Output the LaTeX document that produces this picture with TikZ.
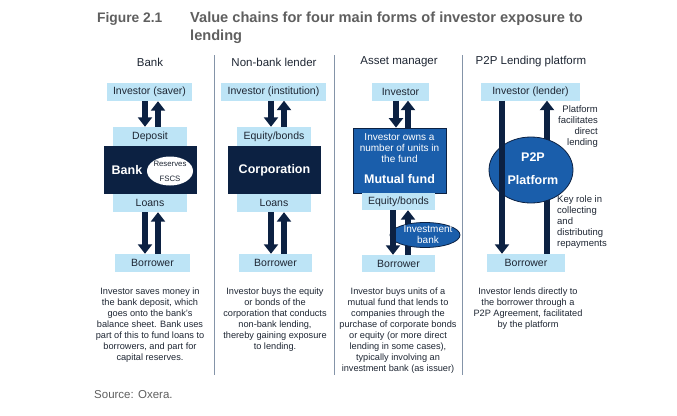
\documentclass[tikz,border=0pt]{standalone}
\usepackage{fontspec}
\setmainfont{Liberation Sans}
\usetikzlibrary{arrows.meta,shapes.geometric}
\definecolor{lblue}{HTML}{BDE4F6}
\definecolor{navy}{HTML}{0C2142}
\definecolor{midblue}{HTML}{1A5EAB}
\definecolor{tdark}{HTML}{1E2633}
\definecolor{tgray}{HTML}{5F5F5F}
\definecolor{sepc}{HTML}{8494A8}
\begin{document}
\begin{tikzpicture}[x=1pt,y=-1pt,
  lbox/.style={fill=lblue, inner sep=0pt, text=tdark, font=\fontsize{10.5}{12}\selectfont},
  dbox/.style={fill=navy, inner sep=0pt},
  mbox/.style={fill=midblue, draw=navy, line width=0.8pt, inner sep=0pt},
  hdr/.style={font=\fontsize{11.5}{13}\selectfont, text=tdark},
  desc/.style={font=\fontsize{9.2}{11}\selectfont, text=tdark, align=center, anchor=north, inner sep=0pt},
  side/.style={font=\fontsize{9.5}{11}\selectfont, text=tdark, inner sep=0pt},
  fat/.style={line width=6pt, draw=navy, -{Triangle[width=14pt,length=9.5pt]}},
  wbold/.style={text=white, font=\bfseries\fontsize{12.5}{14}\selectfont, inner sep=0pt},
  wsmall/.style={text=white, font=\fontsize{10}{11}\selectfont, align=center, inner sep=0pt},
  sepline/.style={draw=sepc, line width=1pt}
]
\useasboundingbox (0,0) rectangle (677,415);

% title
\node[anchor=base west, inner sep=0pt, text=tgray, font=\bfseries\fontsize{13.8}{16}\selectfont] (fig) at (97,22) {Figure 2.1};
\node[anchor=base west, inner sep=0pt, text=tgray, font=\bfseries\fontsize{14.6}{17}\selectfont] (title1) at (190,22) {Value chains for four main forms of investor exposure to};
\node[anchor=base west, inner sep=0pt, text=tgray, font=\bfseries\fontsize{14.6}{17}\selectfont] (title2) at (190,40) {lending};

% separators
\draw[sepline] (214,55) -- (214,375);
\draw[sepline] (334,55) -- (334,375);
\draw[sepline] (462,55) -- (462,375);

% headers
\node[hdr] (h1) at (150,62) {Bank};
\node[hdr] (h2) at (274,62) {Non-bank lender};
\node[hdr] (h3) at (399,62) {Asset manager};
\node[hdr] (h4) at (531,62) {P2P Lending platform};

% ---------- Bank ----------
\node[lbox, minimum width=85pt, minimum height=18pt] (inv1) at (149.5,92) {Investor (saver)};
\node[lbox, minimum width=74pt, minimum height=19pt] (dep1) at (150,136.5) {Deposit};
\node[dbox, minimum width=93pt, minimum height=48pt] (bankbox) at (150.5,170) {};
\node[lbox, minimum width=74pt, minimum height=18pt] (loans1) at (150,203) {Loans};
\node[lbox, minimum width=75pt, minimum height=18pt] (bor1) at (152.5,263) {Borrower};
\node[wbold] (banktxt) at (127,170) {Bank};
\node[ellipse, fill=white, minimum width=46pt, minimum height=29pt, inner sep=0pt] (res) at (170,171) {};
\node[inner sep=0pt, text=tdark, font=\fontsize{7.8}{9}\selectfont] (restxt) at (170,164) {Reserves};
\node[inner sep=0pt, text=tdark, font=\fontsize{7.8}{9}\selectfont] (fscs) at (170,178.5) {FSCS};
\draw[fat] ([xshift=-4.5pt]inv1.south) -- ([xshift=-4.5pt]inv1.south |- dep1.north);
\draw[fat] ([xshift=8.5pt]inv1.south |- dep1.north) -- ([xshift=8.5pt]inv1.south);
\draw[fat] ([xshift=-4.5pt]inv1.south |- loans1.south) -- ([xshift=-4.5pt]inv1.south |- bor1.north);
\draw[fat] ([xshift=8.5pt]inv1.south |- bor1.north) -- ([xshift=8.5pt]inv1.south |- loans1.south);

% ---------- Non-bank ----------
\node[lbox, minimum width=105pt, minimum height=18pt] (inv2) at (273.5,91.5) {Investor (institution)};
\node[lbox, minimum width=74pt, minimum height=19pt] (eq2) at (274,136.5) {Equity/bonds};
\node[dbox, minimum width=93pt, minimum height=48pt] (corp) at (274.5,170) {};
\node[wbold] (corptxt) at (274.5,170) {Corporation};
\node[lbox, minimum width=74pt, minimum height=18pt] (loans2) at (274,203) {Loans};
\node[lbox, minimum width=73pt, minimum height=18pt] (bor2) at (275.5,263) {Borrower};
\draw[fat] ([xshift=-2.5pt]inv2.south) -- ([xshift=-2.5pt]inv2.south |- eq2.north);
\draw[fat] ([xshift=10.5pt]inv2.south |- eq2.north) -- ([xshift=10.5pt]inv2.south);
\draw[fat] ([xshift=-2.5pt]inv2.south |- loans2.south) -- ([xshift=-2.5pt]inv2.south |- bor2.north);
\draw[fat] ([xshift=10.5pt]inv2.south |- bor2.north) -- ([xshift=10.5pt]inv2.south |- loans2.south);

% ---------- Asset manager ----------
\node[lbox, minimum width=57pt, minimum height=18pt] (inv3) at (400.5,91.5) {Investor};
\node[mbox, minimum width=93pt, minimum height=65pt] (mf) at (399.5,160.5) {};
\node[wsmall] (mftxt) at (399.5,148) {Investor owns a\\number of units in\\the fund};
\node[wbold] (mfname) at (399.5,179) {Mutual fund};
\node[lbox, minimum width=73pt, minimum height=17pt] (eq3) at (398.5,201.5) {Equity/bonds};
\node[lbox, minimum width=73pt, minimum height=17pt] (bor3) at (398.5,263.5) {Borrower};
\draw[fat] ([xshift=-4.5pt]inv3.south) -- ([xshift=-4.5pt]inv3.south |- mf.north);
\draw[fat] ([xshift=7.5pt]inv3.south |- mf.north) -- ([xshift=7.5pt]inv3.south);
\draw[fat] ([xshift=9.5pt]eq3.south |- bor3.north) -- ([xshift=9.5pt]eq3.south);
\node[ellipse, mbox, minimum width=70pt, minimum height=25pt] (ib) at (425,235) {};
\node[wsmall] (ibtxt) at (428,235) {Investment\\bank};
\draw[fat] ([xshift=-5.5pt]eq3.south) -- ([xshift=-5.5pt]eq3.south |- bor3.north);

% ---------- P2P ----------
\node[lbox, minimum width=99pt, minimum height=18pt] (inv4) at (530.5,91.5) {Investor (lender)};
\node[lbox, minimum width=78pt, minimum height=18pt] (bor4) at (526,263) {Borrower};
\draw[fat] ([xshift=16.5pt]inv4.south |- bor4.north) -- ([xshift=16.5pt]inv4.south);
\node[ellipse, mbox, minimum width=84pt, minimum height=66pt] (p2p) at (531,170) {};
\draw[fat] ([xshift=-28.5pt]inv4.south) -- ([xshift=-28.5pt]inv4.south |- bor4.north);
\node[wbold] (p2ptxt) at (533,157) {P2P};
\node[wbold] (plattxt) at (533,180) {Platform};
\node[side, anchor=north east, align=right] (fac) at (598,105) {Platform\\facilitates\\direct\\lending};
\node[side, anchor=north west, align=left] (key) at (557,195) {Key role in\\collecting\\and\\distributing\\repayments};

% ---------- descriptions ----------
\node[desc] (d1) at (150,288) {Investor saves money in\\the bank deposit, which\\goes onto the bank’s\\balance sheet. Bank uses\\part of this to fund loans to\\borrowers, and part for\\capital reserves.};
\node[desc] (d2) at (275,288) {Investor buys the equity\\or bonds of the\\corporation that conducts\\non-bank lending,\\thereby gaining exposure\\to lending.};
\node[desc] (d3) at (398,288) {Investor buys units of a\\mutual fund that lends to\\companies through the\\purchase of corporate bonds\\or equity (or more direct\\lending in some cases),\\typically involving an\\investment bank (as issuer)};
\node[desc] (d4) at (528,288) {Investor lends directly to\\the borrower through a\\P2P Agreement, facilitated\\by the platform};

% source
\node[anchor=west, inner sep=0pt, text=tgray, font=\fontsize{11.5}{13}\selectfont] (src) at (94,395) {Source: Oxera.};
\end{tikzpicture}
\end{document}
